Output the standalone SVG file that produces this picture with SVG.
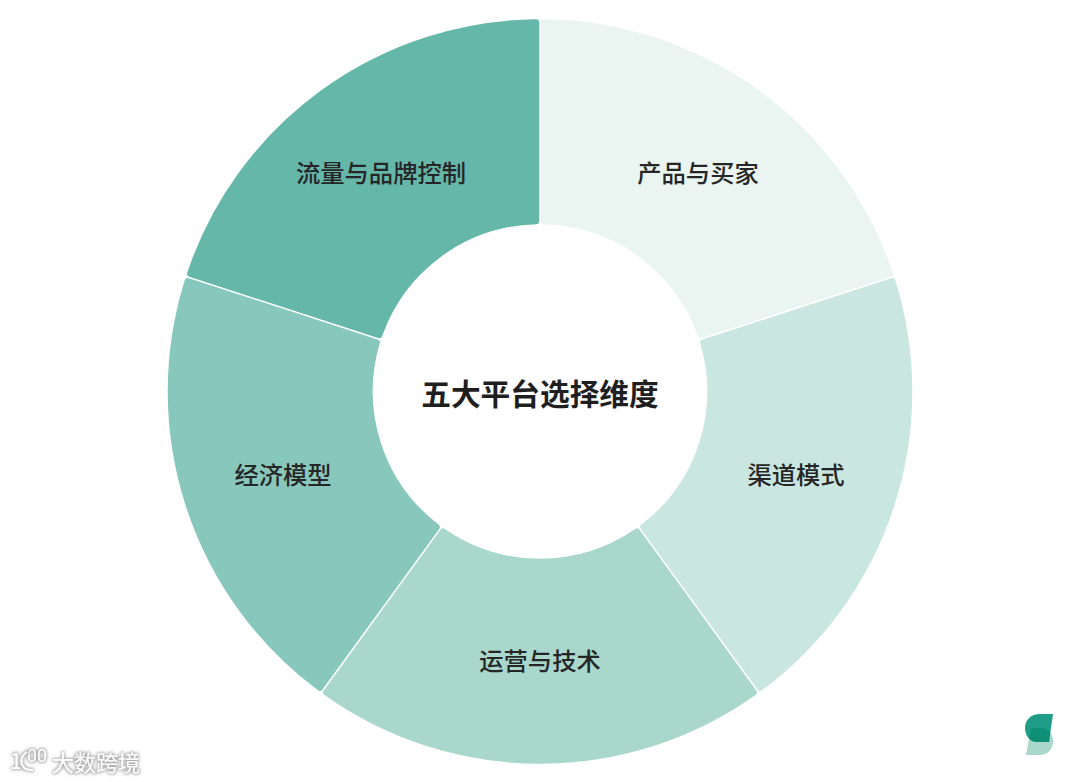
<svg xmlns="http://www.w3.org/2000/svg" width="1080" height="782" viewBox="0 0 1080 782">
<style>
.seg{stroke-width:6.5;stroke-linejoin:round}
.lbl{font-family:"Noto Sans CJK SC","Noto Sans",sans-serif;font-size:24.3px;font-weight:500;fill:#262626;text-anchor:middle}
.title{font-size:29.7px;font-weight:700;fill:#1f1f1f}
.wm{font-family:"Noto Sans CJK SC","Noto Sans",sans-serif;fill:#fff;filter:url(#glow)}
</style>
<defs>
<filter id="glow" x="-30%" y="-50%" width="160%" height="200%">
<feMorphology in="SourceAlpha" operator="dilate" radius="0.5" result="d"/>
<feGaussianBlur in="d" stdDeviation="1.4" result="b"/>
<feFlood flood-color="#808080" flood-opacity="0.65"/>
<feComposite in2="b" operator="in" result="s"/>
<feMerge><feMergeNode in="s"/><feMergeNode in="SourceGraphic"/></feMerge>
</filter>
</defs>
<rect width="1080" height="782" fill="#fff"/>
<g id="seg-product">
<path class="seg" fill="#EAF5F1" stroke="#EAF5F1" d="M544 22.52A369 369 0 0 1 889.68 273.67L700.88 335.02A170.5 170.5 0 0 0 544 221.05Z"/>
<text class="lbl" x="698" y="182">产品与买家</text>
</g>
<g id="seg-channel">
<path class="seg" fill="#CAE6E0" stroke="#CAE6E0" d="M892.16 281.28A369 369 0 0 1 760.12 687.66L643.43 527.05A170.5 170.5 0 0 0 703.35 342.63Z"/>
<text class="lbl" x="796" y="484">渠道模式</text>
</g>
<g id="seg-ops">
<path class="seg" fill="#A9D7CC" stroke="#A9D7CC" d="M753.64 692.36A369 369 0 0 1 326.36 692.36L443.05 531.75A170.5 170.5 0 0 0 636.95 531.75Z"/>
<text class="lbl" x="540" y="670">运营与技术</text>
</g>
<g id="seg-economy">
<path class="seg" fill="#88C7BB" stroke="#88C7BB" d="M319.88 687.66A369 369 0 0 1 187.84 281.28L376.65 342.63A170.5 170.5 0 0 0 436.57 527.05Z"/>
<text class="lbl" x="283" y="484">经济模型</text>
</g>
<g id="seg-traffic">
<path class="seg" fill="#65B7A9" stroke="#65B7A9" d="M190.32 273.67A369 369 0 0 1 536 22.52L536 221.05A170.5 170.5 0 0 0 379.12 335.02Z"/>
<text class="lbl" x="381" y="182">流量与品牌控制</text>
</g>
<g id="center">
<text class="lbl title" x="540" y="405">五大平台选择维度</text>
</g>
<g id="logo">
<path fill="#A9D7CC" d="M1031 728L1026 755H1039C1048 755 1053 749 1053 741C1053 733 1048 728 1041 728Z"/>
<path fill="#1F9D89" d="M1053 714L1049 742H1037C1030 742 1025 736 1025 728C1025 720 1031 714 1040 714Z"/>
<path fill="#0E8F76" d="M1031 728H1041C1045 728 1048 729 1050 732L1049 742H1037C1034 742 1031 741 1029 738Z"/>
</g>
<g id="watermark">
<text class="wm" x="52" y="771" font-size="22">大数跨境</text>
<text class="wm" x="10" y="769" font-size="22">1</text>
<text class="wm" x="27" y="762" font-size="18">00</text>
<path d="M27 752C18 758 20 771 33 770" fill="none" stroke="#fff" stroke-width="2" filter="url(#glow)"/>
</g>
</svg>
